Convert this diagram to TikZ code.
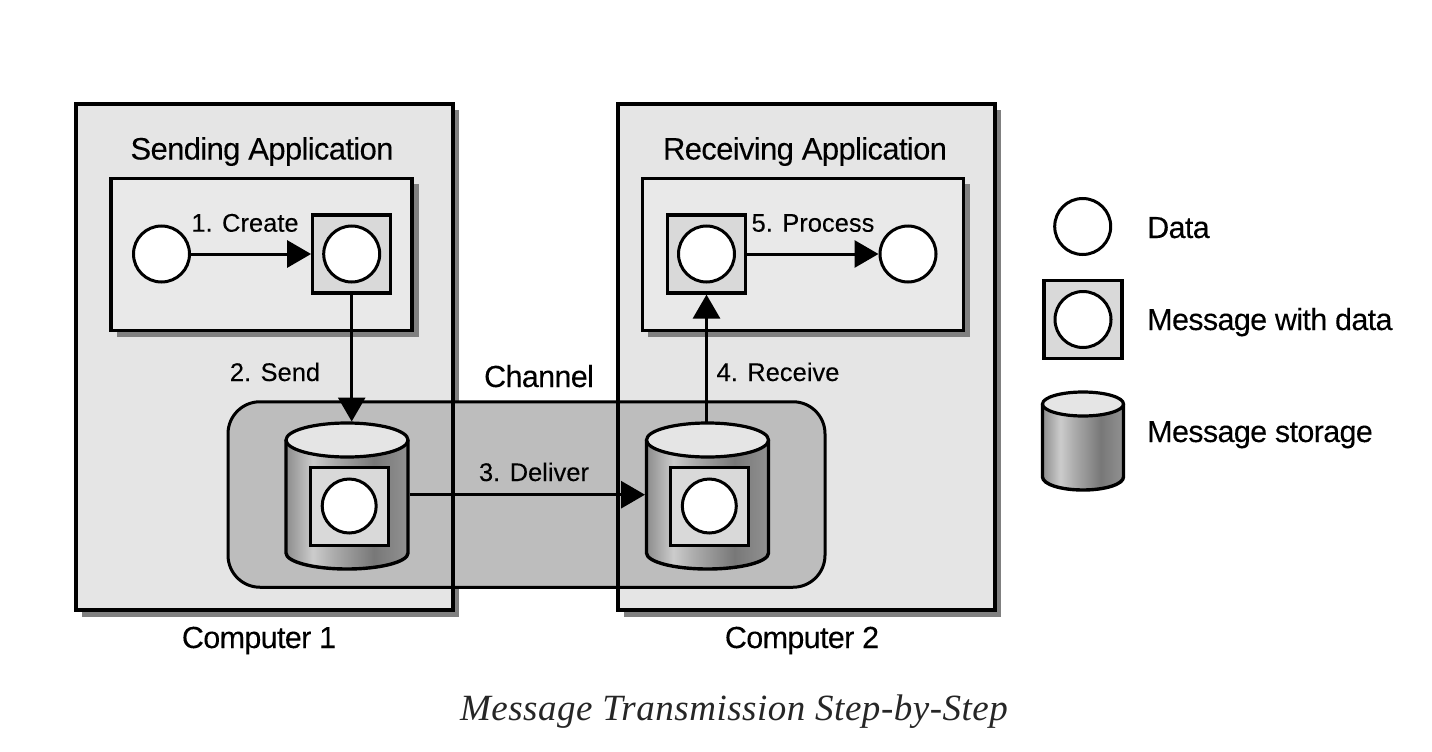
\documentclass[tikz,border=0pt]{standalone}
\usepackage{fontspec}
\setmainfont{Liberation Sans}
\newfontfamily\titlefont[LetterSpace=-2.1,FakeBold=0.12]{Liberation Sans}
\newfontfamily\stepfont[FakeBold=0.1]{Liberation Sans}
\newfontfamily\capfont[LetterSpace=1.4]{Liberation Serif}
\usetikzlibrary{arrows.meta}
\definecolor{panel}{HTML}{E5E5E5}
\definecolor{inner}{HTML}{E9E9E9}
\definecolor{msgfill}{HTML}{D9D9D9}
\definecolor{chan}{HTML}{BDBDBD}
\definecolor{shadowc}{HTML}{808080}
\pgfdeclarehorizontalshading{cylgrad}{100bp}{color(0bp)=(white!55!black); color(25bp)=(white!55!black); color(36bp)=(white!80!black); color(44bp)=(white!68!black); color(61bp)=(white!47!black); color(75bp)=(white!57!black); color(100bp)=(white!57!black)}
\tikzset{
  computer/.style={fill=panel,draw=none,minimum width=377pt,minimum height=506pt,inner sep=0pt,outer sep=0pt},
  border/.style={draw=black,line width=4.5pt},
  appbox/.style={fill=inner,draw=black,line width=3.4pt,minimum width=301pt,minimum height=152pt,inner sep=0pt,outer sep=1.5pt},
  datac/.style={circle,fill=white,draw=black,line width=3pt,minimum size=56pt,inner sep=0pt,outer sep=1.5pt},
  msgbox/.style={rectangle,fill=msgfill,draw=black,line width=3.2pt,minimum size=78pt,inner sep=0pt,outer sep=1.6pt},
  channelbox/.style={rectangle,rounded corners=32pt,fill=chan,draw=black,line width=3pt,minimum width=597pt,minimum height=185.5pt,inner sep=0pt},
  cylspot/.style={rectangle,inner sep=0pt,outer sep=0pt},
  flow/.style={line width=3pt,-{Triangle[length=24pt,width=27pt]}},
  title/.style={font=\titlefont\fontsize{31}{32}\selectfont,anchor=base,inner sep=0pt},
  steplabel/.style={font=\stepfont\fontsize{25.5}{28}\selectfont,anchor=base,inner sep=0pt},
  plainlabel/.style={font=\titlefont\fontsize{30.5}{32}\selectfont,anchor=base,inner sep=0pt},
  legendlabel/.style={font=\titlefont\fontsize{30.5}{32}\selectfont,anchor=base west,inner sep=0pt}
}
% \storage{name}{cx}{top-ellipse cy}{bottom-ellipse cy}{rx}{ry top}{ry bottom}
\newcommand{\storage}[7]{%
  \path[shading=cylgrad,shading angle=0] (#2-#5,#3) -- (#2-#5,#4) arc[start angle=180,end angle=0,x radius=#5,y radius=#7] -- (#2+#5,#3) arc[start angle=0,end angle=-180,x radius=#5,y radius=#6] -- cycle;
  \draw[line width=3.4pt,line join=round] (#2-#5,#3) -- (#2-#5,#4) arc[start angle=180,end angle=0,x radius=#5,y radius=#7] -- (#2+#5,#3);
  \draw[line width=3.2pt,fill=panel] (#2,#3) ellipse[x radius=#5,y radius=#6];
  \node[cylspot,minimum width={2*#5+3},minimum height={#4+#7-#3+#6+3}] (#1) at (#2,{(#3-#6+#4+#7)/2}) {};
}
\begin{document}
\begin{tikzpicture}[x=1pt,y=-1pt]
\useasboundingbox (0,0) rectangle (1432,752);
\fill[white] (0,0) rectangle (1432,752);
% drop shadows
\fill[shadowc] (82,110) rectangle (459,616.5);
\fill[shadowc] (624,110) rectangle (1001,616.5);
% computers
\node[computer] (comp1) at (264.5,357) {};
\node[computer] (comp2) at (806.5,357) {};
% app shadows
\fill[shadowc] (117,184) rectangle (419,337);
\fill[shadowc] (648,184) rectangle (969.5,337);
\node[appbox] (app1) at (261.5,254.5) {};
\node[appbox,minimum width=321pt] (app2) at (803,254.5) {};
% channel
\node[channelbox] (chan) at (526.5,494.5) {};
% computer borders above channel
\draw[border] (comp1.north west) rectangle (comp1.south east);
\draw[border] (comp2.north west) rectangle (comp2.south east);
% data and messages
\node[datac] (d1) at (161.5,254) {};
\node[msgbox] (m1) at (351.7,254) {};
\node[datac] (d1m) at (351.7,254) {};
\node[msgbox] (m2) at (706.5,254) {};
\node[datac] (d2m) at (706.5,254) {};
\node[datac] (d2) at (908,254) {};
% storages
\storage{cyl1}{347}{440}{553}{61}{17}{16}
\node[msgbox] (m3) at (349.5,506.5) {};
\node[datac,minimum size=54pt] (d3) at (349.2,506) {};
\storage{cyl2}{707.5}{440}{553}{61}{17}{16}
\node[msgbox] (m4) at (709.5,506.5) {};
\node[datac,minimum size=54pt] (d4) at (709.3,506) {};
% connectors
\draw[flow] (d1.east) -- (m1.west);
\draw[flow] (m1.south) -- (m1.south |- cyl1.north);
\draw[flow] ([yshift=1.3pt]cyl1.east) -- ([yshift=1.3pt]cyl2.west);
\draw[flow] (m2.south |- cyl2.north) -- (m2.south);
\draw[flow] (m2.east) -- (d2.west);
% titles
\node[title] (t1) at (262,159.5) {Sending Application};
\node[title] (t2) at (805,159.5) {Receiving Application};
\node[steplabel] (s1) at (245,231.7) {1. Create};
\node[steplabel] (s5) at (813,231.7) {5. Process};
\node[steplabel] (s2) at (275,381) {2. Send};
\node[steplabel] (s4) at (778,381) {4. Receive};
\node[steplabel] (s3) at (534,481) {3. Deliver};
\node[plainlabel] (ch) at (539,387) {Channel};
\node[plainlabel] (c1) at (259,648) {Computer 1};
\node[plainlabel] (c2) at (802,648) {Computer 2};
% legend
\node[datac] (ld) at (1082.7,226.5) {};
\node[msgbox] (lm) at (1083,319.5) {};
\node[datac] (ldm) at (1083,319.5) {};
\storage{lc}{1083}{404}{477}{40.5}{12}{13}
\node[legendlabel] (l1) at (1147,238) {Data};
\node[legendlabel] (l2) at (1147,330) {Message with data};
\node[legendlabel] (l3) at (1147,442) {Message storage};
% caption
\node[font=\capfont\itshape\fontsize{37}{40}\selectfont,text=black!85,anchor=base,inner sep=0pt] (cap) at (734,720) {Message Transmission Step-by-Step};
\end{tikzpicture}
\end{document}
